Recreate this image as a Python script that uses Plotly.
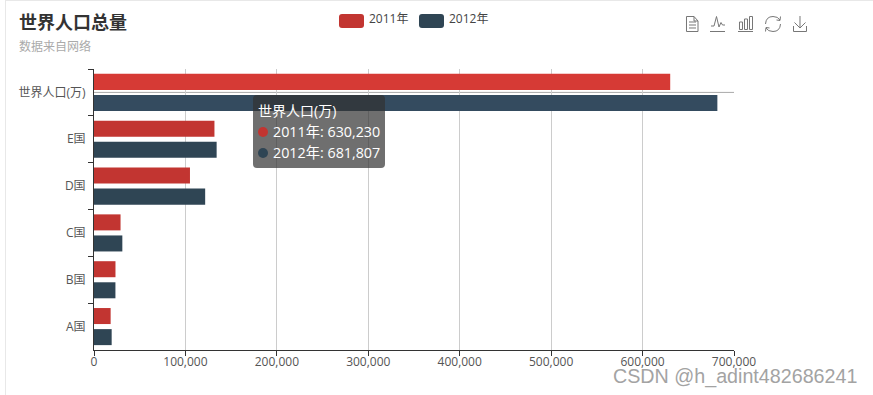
import plotly.graph_objects as go

categories = ["世界人口(万)", "E国", "D国", "C国", "B国", "A国"]
series_names = ["2011年", "2012年"]
values_2011 = [630230, 131744, 104970, 29034, 23489, 18203]
values_2012 = [681807, 134141, 121594, 31000, 23438, 19325]
colors_2011 = ["#d63a35", "#c23531", "#c23531", "#c23531", "#c23531", "#c23531"]
colors_2012 = ["#344b5f", "#2f4554", "#2f4554", "#2f4554", "#2f4554", "#2f4554"]
tick_values = [0, 100000, 200000, 300000, 400000, 500000, 600000, 700000]
FONT = "'Open Sans','Noto Sans CJK SC',sans-serif"

W, H = 873, 395
L, R, T, B = 94, 734, 69, 350


def px(x):
    return (x - L) / (R - L)


def py(y):
    return 1 - (y - T) / (B - T)


def path(*cmds):
    out = []
    for c in cmds:
        if len(c) == 1:
            out.append(c[0])
        else:
            nums = []
            for i in range(1, len(c), 2):
                nums.append(f"{px(c[i]):.5f},{py(c[i + 1]):.5f}")
            out.append(c[0] + " ".join(nums))
    return " ".join(out)


def rrect(x0, y0, x1, y1, r):
    return path(("M", x0 + r, y0), ("L", x1 - r, y0), ("Q", x1, y0, x1, y0 + r),
                ("L", x1, y1 - r), ("Q", x1, y1, x1 - r, y1), ("L", x0 + r, y1),
                ("Q", x0, y1, x0, y1 - r), ("L", x0, y0 + r), ("Q", x0, y0, x0 + r, y0), ("Z",))


def pshape(d, fill=None, line=None, width=1):
    s = dict(type="path", xref="paper", yref="paper", path=d, layer="above",
             line=dict(color=line or "rgba(0,0,0,0)", width=width if line else 0))
    if fill:
        s["fillcolor"] = fill
    return s


def label(x, y, text, size=12, color="#333", anchor="left", family=FONT):
    return dict(xref="paper", yref="paper", x=px(x), y=py(y), text=text, showarrow=False,
                xanchor=anchor, yanchor="middle", align="left",
                font=dict(size=size, color=color, family=family), borderpad=0, borderwidth=0)


fig = go.Figure()
fig.add_bar(name=series_names[0], y=categories, x=values_2011, orientation="h",
            marker=dict(color=colors_2011, line_width=0), showlegend=False)
fig.add_bar(name=series_names[1], y=categories, x=values_2012, orientation="h",
            marker=dict(color=colors_2012, line_width=0), showlegend=False)

ICON = "#777"
shapes = [
    # card edge
    dict(type="line", xref="paper", yref="paper", x0=px(5.5), x1=px(5.5), y0=py(0), y1=py(395),
         line=dict(color="#e8e8e8", width=1), layer="below"),
    dict(type="line", xref="paper", yref="paper", x0=px(5), x1=px(873), y0=py(0.5), y1=py(0.5),
         line=dict(color="#e8e8e8", width=1), layer="below"),
    # axis pointer
    dict(type="line", xref="x", yref="y", x0=0, x1=700000, y0=categories[0], y1=categories[0],
         line=dict(color="#aaa", width=1), layer="below"),
    # legend swatches
    pshape(rrect(339, 14, 364, 28, 3), fill="#c23531"),
    pshape(rrect(419, 14, 444, 28, 3), fill="#2f4554"),
    # tooltip
    pshape(rrect(253, 95, 385, 168, 4), fill="rgba(50,50,50,0.7)"),
    dict(type="circle", xref="paper", yref="paper", x0=px(258), x1=px(268), y0=py(127), y1=py(137),
         fillcolor="#c23531", line_width=0, layer="above"),
    dict(type="circle", xref="paper", yref="paper", x0=px(258), x1=px(268), y0=py(148), y1=py(158),
         fillcolor="#2f4554", line_width=0, layer="above"),
    # toolbox: data view
    pshape(path(("M", 686.5, 16.5), ("L", 694, 16.5), ("L", 698, 21), ("L", 698, 31.5), ("L", 686.5, 31.5), ("Z",),
                ("M", 694, 16.5), ("L", 694, 21), ("L", 698, 21),
                ("M", 689, 22), ("L", 696, 22), ("M", 689, 25), ("L", 696, 25), ("M", 689, 28), ("L", 696, 28)),
           line=ICON),
    # toolbox: line
    pshape(path(("M", 710, 31.5), ("L", 725, 31.5),
                ("M", 711, 26), ("L", 714, 26), ("L", 716.5, 16.5), ("L", 719, 27), ("L", 721, 22.5), ("L", 722.5, 25), ("L", 725, 25)),
           line=ICON),
    # toolbox: bar
    pshape(path(("M", 738, 31.5), ("L", 753, 31.5),
                ("M", 739.5, 29.5), ("L", 739.5, 22), ("L", 742.5, 22), ("L", 742.5, 29.5), ("Z",),
                ("M", 744.5, 29.5), ("L", 744.5, 19), ("L", 747.5, 19), ("L", 747.5, 29.5), ("Z",),
                ("M", 749.5, 29.5), ("L", 749.5, 16.5), ("L", 752.5, 16.5), ("L", 752.5, 29.5), ("Z",)),
           line=ICON),
    # toolbox: restore
    pshape(path(("M", 765.5, 24), ("Q", 766, 16.5, 773, 16.5), ("Q", 778, 16.5, 780, 20),
                ("M", 780.5, 24), ("Q", 780, 31.5, 773, 31.5), ("Q", 768, 31.5, 766, 28),
                ("M", 780.5, 16.5), ("L", 780, 20.5), ("L", 776.5, 20),
                ("M", 765.5, 31.5), ("L", 766, 27.5), ("L", 769.5, 28)),
           line=ICON),
    # toolbox: save
    pshape(path(("M", 793.5, 26), ("L", 793.5, 31.5), ("L", 806.5, 31.5), ("L", 806.5, 26),
                ("M", 800, 16), ("L", 800, 28), ("M", 794.5, 22.5), ("L", 800, 28), ("L", 805.5, 22.5)),
           line=ICON),
]

annotations = [
    label(19, 46.5, "数据来自网络", size=12, color="#aaa"),
    label(369, 19, series_names[0], size=12, color="#444"),
    label(449, 19, series_names[1], size=12, color="#444"),
    label(258, 110.5, categories[0], size=14, color="#fff"),
    label(273, 131.5, f"{series_names[0]}: {values_2011[0]:,}", size=14.3, color="#fff"),
    label(273, 152.5, f"{series_names[1]}: {values_2012[0]:,}", size=14.3, color="#fff"),
    label(613, 376, "CSDN @h_adint482686241", size=19.7, color="#a3a3a3", family="'Liberation Sans',Arial,sans-serif"),
]

fig.update_layout(
    width=W, height=H, autosize=False,
    margin=dict(l=L, r=W - R, t=T, b=H - B, pad=0),
    paper_bgcolor="#fff", plot_bgcolor="#fff",
    font=dict(family=FONT, size=12, color="#333"),
    title=dict(text="<b>世界人口总量</b>", x=19 / W, xanchor="left", xref="container",
               y=1 - 23 / H, yanchor="middle", yref="container",
               font=dict(size=18, color="#333", family=FONT)),
    barmode="group", bargap=0.1, bargroupgap=0.24,
    shapes=shapes, annotations=annotations, showlegend=False,
    xaxis=dict(range=[0, 700000], tickvals=tick_values, tickformat=",", showgrid=True,
               gridcolor="#ccc", gridwidth=1, zeroline=False, showline=True, linecolor="#333",
               linewidth=1, ticks="outside", ticklen=5, tickcolor="#333", ticklabelstandoff=-4,
               tickfont=dict(size=12, color="#555")),
    yaxis=dict(type="category", categoryorder="array", categoryarray=categories,
               autorange="reversed", showgrid=False, zeroline=False, showline=True,
               linecolor="#333", linewidth=1, ticks="outside", ticklen=5, tickcolor="#333",
               tickson="boundaries", ticklabelstandoff=5, tickfont=dict(size=12, color="#555")),
)

fig.write_html("out.html", config=dict(displayModeBar=False),
               post_script="document.body.style.margin='0';document.body.style.overflow='hidden';")
